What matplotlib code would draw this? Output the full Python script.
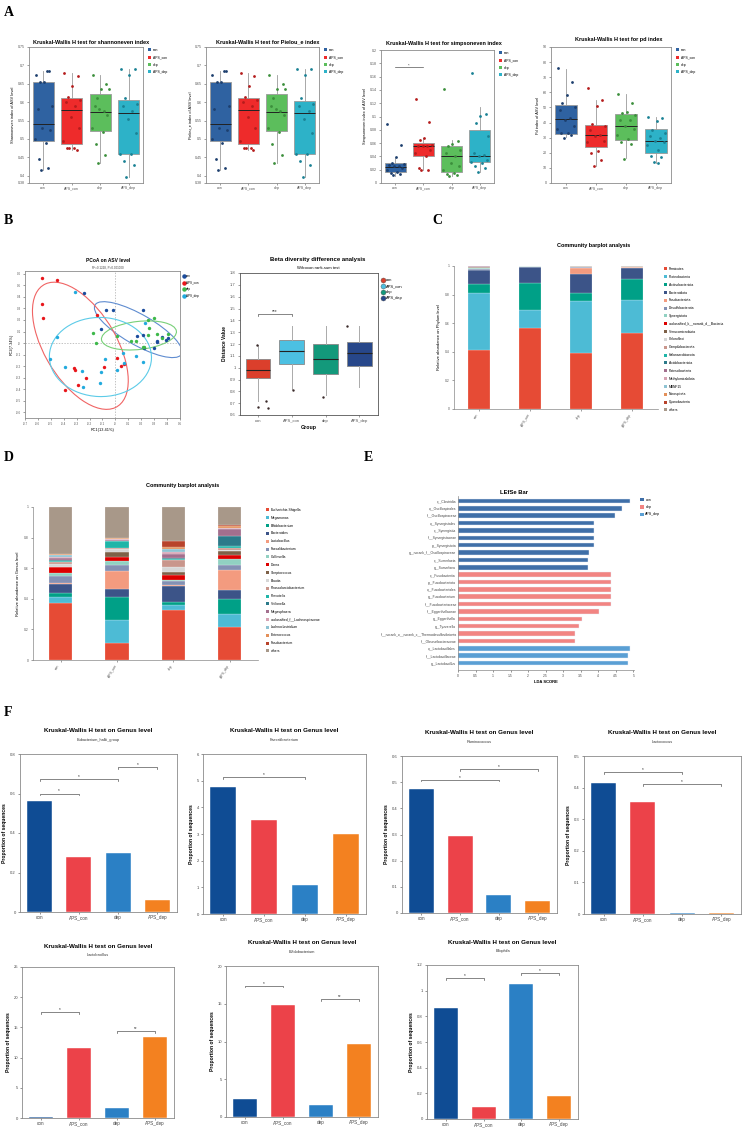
import numpy as np
import matplotlib
matplotlib.use("Agg")
import matplotlib.pyplot as plt
from matplotlib.patches import Ellipse, Patch
from matplotlib.lines import Line2D
from matplotlib.ticker import FuncFormatter

plt.rcParams['font.family'] = ['Liberation Sans', 'DejaVu Sans']
plt.rcParams['axes.linewidth'] = 0.5
plt.rcParams['xtick.major.width'] = 0.4
plt.rcParams['ytick.major.width'] = 0.4
plt.rcParams['xtick.major.size'] = 1.5
plt.rcParams['ytick.major.size'] = 1.5
plt.rcParams['xtick.major.pad'] = 1.5
plt.rcParams['ytick.major.pad'] = 1.5

W, H = 744, 1134
fig = plt.figure(figsize=(W / 100, H / 100), dpi=100)

groups = ["con", "APS_con", "dep", "APS_dep"]

# ---------------- A: alpha diversity (whislo, q1, med, q3, whishi) ----------------
shannon_box = [[0.415, 0.495, 0.54, 0.655, 0.685],
               [0.47, 0.485, 0.578, 0.612, 0.68],
               [0.435, 0.522, 0.573, 0.623, 0.675],
               [0.395, 0.46, 0.57, 0.605, 0.69]]
shannon_pts = [[0.675, 0.685, 0.655, 0.655, 0.59, 0.58, 0.685, 0.53, 0.525, 0.5, 0.49, 0.445, 0.42, 0.415],
               [0.68, 0.67, 0.645, 0.615, 0.605, 0.6, 0.59, 0.56, 0.53, 0.495, 0.475, 0.475, 0.47, 0.475],
               [0.675, 0.65, 0.635, 0.61, 0.635, 0.59, 0.575, 0.58, 0.565, 0.53, 0.52, 0.485, 0.455, 0.435],
               [0.69, 0.69, 0.675, 0.61, 0.595, 0.59, 0.575, 0.555, 0.515, 0.46, 0.46, 0.44, 0.43, 0.395]]
# Pielou_e panel reads the same as shannoneven
pielou_box = [[0.415, 0.495, 0.54, 0.655, 0.685],
              [0.47, 0.485, 0.578, 0.612, 0.68],
              [0.435, 0.522, 0.573, 0.622, 0.675],
              [0.395, 0.46, 0.57, 0.604, 0.69]]
pielou_pts = shannon_pts
simpson_box = [[0.011, 0.016, 0.024, 0.03, 0.038],
               [0.019, 0.041, 0.055, 0.06, 0.067],
               [0.011, 0.016, 0.04, 0.055, 0.064],
               [0.017, 0.031, 0.041, 0.08, 0.115]]
simpson_pts = [[0.089, 0.057, 0.039, 0.03, 0.029, 0.027, 0.025, 0.025, 0.022, 0.02, 0.016, 0.015, 0.013, 0.012],
               [0.126, 0.092, 0.067, 0.065, 0.057, 0.056, 0.055, 0.055, 0.05, 0.045, 0.041, 0.023, 0.02, 0.02],
               [0.141, 0.063, 0.059, 0.055, 0.05, 0.045, 0.04, 0.03, 0.025, 0.02, 0.015, 0.013, 0.012, 0.011],
               [0.165, 0.104, 0.101, 0.09, 0.07, 0.045, 0.042, 0.04, 0.035, 0.032, 0.03, 0.025, 0.022, 0.017]]
pd_box = [[30.3, 32.5, 42.5, 51.3, 75.6],
          [11.5, 23.7, 31.7, 38.7, 55.0],
          [16.6, 28.6, 37.4, 45.8, 58.6],
          [13.3, 20.0, 28.1, 35.9, 43.6]]
pd_pts = [[76, 67, 58, 53, 50, 48, 43, 42, 38, 36, 33, 33, 32, 30],
          [63, 55, 51, 39, 38, 35, 32, 31, 28, 27, 21, 20, 15, 11],
          [59, 53, 47, 46, 45, 42, 42, 38, 36, 32, 29, 27, 26, 16],
          [44, 43, 41, 35, 33, 31, 30, 28, 27, 25, 22, 18, 17, 14, 13]]

# ---------------- B: PCoA ----------------
pc1_con = [-0.24, -0.07, -0.02, -0.11, 0.21, 0.17, 0.21, 0.32, 0.32, 0.36, 0.39, 0.41, 0.30, 0.22]
pc2_con = [0.43, 0.29, 0.29, 0.125, 0.29, 0.065, 0.07, 0.02, 0.01, 0.05, 0.03, 0.04, -0.04, -0.04]
pc1_aps_con = [-0.57, -0.45, -0.57, -0.56, -0.14, 0.01, 0.04, 0.07, -0.09, -0.32, -0.31, -0.23, -0.29, -0.39]
pc2_aps_con = [0.56, 0.55, 0.34, 0.22, 0.24, -0.13, -0.20, -0.18, -0.21, -0.22, -0.23, -0.30, -0.36, -0.41]
pc1_dep = [-0.17, -0.15, 0.01, 0.12, 0.16, 0.25, 0.32, 0.26, 0.25, 0.30, 0.36, 0.41, 0.22, 0.21]
pc2_dep = [0.09, 0.0, 0.06, 0.015, 0.015, 0.07, 0.075, 0.13, 0.20, 0.22, 0.04, 0.075, -0.03, -0.035]
pc1_aps_dep = [-0.31, -0.45, -0.51, -0.39, -0.26, -0.11, -0.08, 0.01, 0.06, 0.07, 0.16, 0.21, 0.23, -0.25, -0.12]
pc2_aps_dep = [0.44, 0.05, -0.14, -0.21, -0.245, -0.25, -0.14, -0.23, -0.09, -0.17, -0.11, -0.16, 0.17, -0.38, -0.35]

beta_box = [[0.72, 0.91, 0.98, 1.075, 1.19],
            [0.82, 1.03, 1.14, 1.23, 1.35],
            [0.77, 0.945, 1.075, 1.2, 1.35],
            [0.84, 1.01, 1.125, 1.215, 1.35]]
beta_fliers = [[1.19, 0.665, 0.72, 0.655], [0.81], [0.75], [1.35]]

# ---------------- C: phylum ----------------
phylum_names = ["Firmicutes", "Proteobacteria", "Actinobacteriota", "Bacteroidota", "Fusobacteriota",
                "Desulfobacterota", "Synergistota", "unclassified_k__norank_d__Bacteria", "Verrucomicrobiota",
                "Chloroflexi", "Campilobacterota", "Halanaerobiaeota", "Acidobacteriota", "Patescibacteria",
                "Methylomirabilota", "MBNF15", "Nitrospirota", "Cyanobacteria", "others"]
phylum_con = [0.41, 0.40, 0.067, 0.093, 0.001, 0.009, 0.007, 0.001, 0.002, 0.003, 0.001, 0.001, 0.001,
              0.001, 0.001, 0.001, 0.0005, 0.0005, 0.001]
phylum_aps_con = [0.567, 0.123, 0.19, 0.113, 0.001, 0.002, 0.001, 0.0005, 0.0005, 0.0005, 0.0005, 0.0003,
                  0.0003, 0.0003, 0.0002, 0.0002, 0.0002, 0.0002, 0.0005]
phylum_dep = [0.395, 0.358, 0.061, 0.132, 0.04, 0.008, 0.002, 0.0005, 0.0005, 0.0005, 0.0005, 0.0003,
              0.0003, 0.0003, 0.0002, 0.0002, 0.0002, 0.0002, 0.0005]
phylum_aps_dep = [0.528, 0.232, 0.147, 0.081, 0.005, 0.002, 0.001, 0.0005, 0.0005, 0.0005, 0.0005, 0.0003,
                  0.0003, 0.0003, 0.0002, 0.0002, 0.0002, 0.0002, 0.0005]
phylum_colors = ["#e64b35", "#4dbbd5", "#00a087", "#3c5488", "#f39b7f", "#8491b4", "#91d1c2", "#dc0000",
                 "#7e6148", "#d6d6d6", "#c9968c", "#1fb5a8", "#2c7a8a", "#a36f8e", "#d6a3b4", "#8ec3d3",
                 "#e3905a", "#b8432b", "#a89889"]

# ---------------- D: genus ----------------
genus_names = ["Escherichia-Shigella", "Megamonas", "Bifidobacterium", "Bacteroides", "Lactobacillus",
               "Faecalibacterium", "Collinsella", "Dorea", "Streptococcus", "Blautia",
               "Phascolarctobacterium", "Prevotella", "Veillonella", "Megasphaera",
               "unclassified_f__Lachnospiraceae", "Lachnoclostridium", "Enterococcus", "Fusobacterium", "others"]
genus_con = [0.37, 0.04, 0.03, 0.06, 0.005, 0.045, 0.02, 0.035, 0.005, 0.015, 0.015, 0.01, 0.005, 0.01,
             0.01, 0.01, 0.005, 0.003, 0.307]
genus_aps_con = [0.11, 0.15, 0.15, 0.057, 0.116, 0.037, 0.03, 0.024, 0.033, 0.021, 0.005, 0.045, 0.003,
                 0.005, 0.004, 0.004, 0.006, 0.0, 0.20]
genus_dep = [0.33, 0.03, 0.02, 0.105, 0.005, 0.025, 0.01, 0.03, 0.021, 0.034, 0.042, 0.008, 0.005, 0.03,
             0.01, 0.023, 0.012, 0.035, 0.225]
genus_aps_dep = [0.213, 0.087, 0.10, 0.057, 0.133, 0.03, 0.037, 0.028, 0.025, 0.01, 0.01, 0.015, 0.065,
                 0.045, 0.005, 0.005, 0.012, 0.003, 0.12]

# ---------------- E: LEfSe ----------------
lefse_names = ["c__Clostridia", "o__Oscillospirales", "f__Oscillospiraceae", "o__Synergistales",
               "c__Synergistia", "f__Synergistaceae", "p__Synergistota", "g__norank_f__Oscillospiraceae",
               "c__Sumerlaeia", "g__Sumerlaea", "c__Fusobacteriia", "p__Fusobacteriota", "o__Fusobacteriales",
               "g__Fusobacterium", "f__Fusobacteriaceae", "f__Eggerthellaceae", "g__Eggerthella",
               "g__Tyzzerella", "f__norank_o__norank_c__Thermodesulfovibrionia", "f__Obscuribacteraceae",
               "o__Lactobacillales", "f__Lactobacillaceae", "g__Lactobacillus"]
lefse_lda = [4.90, 4.67, 4.47, 3.88, 3.88, 3.88, 3.88, 3.73, 3.72, 3.71, 4.36, 4.36, 4.36, 4.36, 4.36,
             4.01, 3.55, 3.45, 3.34, 3.33, 4.91, 4.84, 4.84]
lefse_group = ["con"] * 10 + ["dep"] * 10 + ["APS_dep"] * 3

# ---------------- F: Kruskal-Wallis genus bars ----------------
kw_genus = ["Eubacterium_hallii_group", "Faecalibacterium", "Ruminococcus", "Lactococcus",
            "Lactobacillus", "Bifidobacterium", "Bilophila"]
kw_values = [[0.56, 0.28, 0.30, 0.06],
             [4.75, 3.52, 1.1, 3.0],
             [0.473, 0.296, 0.068, 0.045],
             [0.416, 0.355, 0.004, 0.003],
             [0.1, 11.6, 1.65, 13.35],
             [2.35, 14.85, 1.55, 9.65],
             [0.865, 0.09, 1.055, 0.18]]
kw_sig = [[(0, 1, 0.60, "*"), (0, 2, 0.675, "*"), (2, 3, 0.735, "*")],
          [(0, 2, 5.12, "*")],
          [(0, 2, 0.51, "*"), (1, 3, 0.55, "*")],
          [(0, 2, 0.45, "*"), (1, 3, 0.41, "*")],
          [(0, 1, 17.5, "*"), (2, 3, 14.4, "**")],
          [(0, 1, 17.4, "*"), (2, 3, 15.6, "**")],
          [(0, 1, 1.10, "*"), (2, 3, 1.14, "*")]]
kw_ymax = [0.8, 6, 0.6, 0.5, 25, 20, 1.2]
kw_ystep = [0.2, 1, 0.1, 0.1, 5, 5, 0.2]


def px_axes(l, t, r, b):
    return fig.add_axes([l / W, 1 - b / H, (r - l) / W, (b - t) / H])


def fig_text(x, y, s, **kw):
    fig.text(x / W, 1 - y / H, s, **kw)


gfmt = FuncFormatter(lambda v, p: "%g" % round(v, 4))


def frame(ax, color="#8c8c8c"):
    for sp in ax.spines.values():
        sp.set_color(color)
        sp.set_linewidth(0.6)
    ax.tick_params(colors="#555555", labelsize=2.6)


def baseline_xlabels(ax, size):
    # keep group names on one baseline
    ax.tick_params(axis="x", labelsize=size, pad=1.2 + 0.75 * size)
    for t in ax.get_xticklabels():
        t.set_va("baseline")


def make_stats(rows, fliers=None):
    return [dict(whislo=r[0], q1=r[1], med=r[2], q3=r[3], whishi=r[4],
                 fliers=[] if fliers is None else fliers[i]) for i, r in enumerate(rows)]


def sig_line(ax, x1, x2, y, label, fs=3.2, tick=0.0):
    ax.plot([x1, x1, x2, x2], [y - tick, y, y, y - tick], color="#555555", lw=0.5)
    ax.text((x1 + x2) / 2, y, label, ha="center", va="bottom", fontsize=fs, color="#333333")


def legend_fig(ax, handles, x, y, fs, spacing, hl=1.0):
    ax.legend(handles=handles, loc="upper left", bbox_to_anchor=(x / W, 1 - y / H),
              bbox_transform=fig.transFigure, frameon=False, fontsize=fs, labelspacing=spacing,
              handlelength=hl, handleheight=1.0, handletextpad=0.5, borderpad=0, borderaxespad=0)


# panel letters
for letter, x, y in [("A", 4, 12), ("B", 4, 221), ("C", 432, 221), ("D", 4, 458), ("E", 364, 458), ("F", 4, 712)]:
    fig_text(x, y, letter, fontsize=10, fontweight="bold", family="Liberation Serif", va="center")

# ---------------- A ----------------
a_fill = ["#2f62a1", "#ee2b2b", "#5cbe5c", "#2db2c8"]
a_dot = ["#1d3f6e", "#b51c1c", "#3c8f3c", "#1a8194"]
jitter = [-0.27, 0.21, 0.02, -0.12, 0.3, -0.2, 0.13, -0.03, 0.25, -0.3, 0.08, -0.16, 0.18, -0.08, 0.05]

alpha_specs = [
    (shannon_box, shannon_pts, "Kruskal-Wallis H test for shannoneven index", "Shannoneven index of ASV level",
     (29, 47, 143, 183), 91, 42, (0.38, 0.75), [0.38] + list(np.arange(0.4, 0.76, 0.05)), None),
    (pielou_box, pielou_pts, "Kruskal-Wallis H test for Pielou_e index", "Pielou_e index of ASV level",
     (206, 47, 319, 183), 268, 42, (0.38, 0.75), [0.38] + list(np.arange(0.4, 0.76, 0.05)), None),
    (simpson_box, simpson_pts, "Kruskal-Wallis H test for simpsoneven index", "Simpsoneven index of ASV level",
     (381, 50, 494, 183), 444, 43, (0, 0.2), list(np.arange(0, 0.201, 0.02)), (0, 1, 0.174, "*")),
    (pd_box, pd_pts, "Kruskal-Wallis H test for pd index", "Pd index of ASV level",
     (551, 47, 671, 183), 619, 39, (0, 90), list(range(0, 91, 10)), None),
]

for box, pts, title, ylab, rect, tx, ty, ylim, yticks, sig in alpha_specs:
    ax = px_axes(*rect)
    bp = ax.bxp(make_stats(box), positions=range(4), widths=0.75, patch_artist=True,
                showfliers=False, showcaps=False,
                boxprops=dict(edgecolor="#9a9a9a", linewidth=0.6),
                whiskerprops=dict(color="#9a9a9a", linewidth=0.6),
                medianprops=dict(color="#222222", linewidth=0.7))
    for patch, c in zip(bp["boxes"], a_fill):
        patch.set_facecolor(c)
    for i, vals in enumerate(pts):
        xs = [i + jitter[k % len(jitter)] for k in range(len(vals))]
        ax.scatter(xs, vals, s=4, color=a_dot[i], zorder=3, linewidths=0)
    if sig:
        sig_line(ax, sig[0], sig[1], sig[2], sig[3], fs=3)
    ax.set_xlim(-0.5, 3.5)
    ax.set_ylim(*ylim)
    ax.set_yticks(yticks)
    ax.yaxis.set_major_formatter(gfmt)
    ax.set_xticks(range(4))
    ax.set_xticklabels(groups)
    frame(ax)
    baseline_xlabels(ax, 2.6)
    ax.set_ylabel(ylab, fontsize=2.8, labelpad=2)
    fig_text(tx, ty, title, fontsize=4, fontweight="bold", ha="center", va="center")
    legend_fig(ax, [Patch(facecolor=c, edgecolor="none", label=g) for c, g in zip(a_fill, groups)],
               rect[2] + 5, rect[1] + 1, 2.4, 1.0)

# ---------------- B left: PCoA ----------------
pc_colors = ["#1b4c9c", "#e8161b", "#3db84a", "#22aadd"]
ell_colors = ["#5f8cd0", "#f06464", "#78d078", "#5ccbe8"]
pcoa = [(pc1_con, pc2_con), (pc1_aps_con, pc2_aps_con), (pc1_dep, pc2_dep), (pc1_aps_dep, pc2_aps_dep)]

ax = px_axes(25, 271, 180, 418)
ax.axvline(0, color="#aaaaaa", lw=0.5, ls=(0, (2, 2)))
ax.axhline(0, color="#aaaaaa", lw=0.5, ls=(0, (2, 2)))
for (xs, ys), c, ec in zip(pcoa, pc_colors, ell_colors):
    xs = np.array(xs)
    ys = np.array(ys)
    cov = np.cov(xs, ys)
    vals, vecs = np.linalg.eigh(cov)
    ang = np.degrees(np.arctan2(vecs[1, 1], vecs[0, 1]))
    k = 1.65
    ax.add_patch(Ellipse((xs.mean(), ys.mean()), 2 * k * np.sqrt(vals[1]), 2 * k * np.sqrt(vals[0]),
                         angle=ang, fill=False, edgecolor=ec, lw=0.8, zorder=2))
    ax.scatter(xs, ys, s=6, color=c, zorder=3, linewidths=0)
ax.set_xlim(-0.7, 0.5)
ax.set_ylim(-0.65, 0.625)
ax.set_xticks(np.arange(-0.7, 0.51, 0.1))
ax.set_yticks(np.arange(-0.6, 0.61, 0.1))
ax.xaxis.set_major_formatter(gfmt)
ax.yaxis.set_major_formatter(gfmt)
frame(ax)
ax.tick_params(labelsize=2.2)
ax.set_xlabel("PC1(13.41%)", fontsize=2.8, labelpad=1.5)
ax.set_ylabel("PC2(7.34%)", fontsize=2.8, labelpad=1.5)
fig_text(108, 261, "PCoA on ASV level", fontsize=3.5, fontweight="bold", ha="center", va="center")
fig_text(108, 268, "R²=0.1228, P=0.001000", fontsize=2.2, ha="center", va="center", color="#444444")
legend_fig(ax, [Line2D([], [], marker="o", ls="", color=c, markersize=2.2, label=g)
                for c, g in zip(pc_colors, groups)], 183, 274, 2.2, 0.9, hl=0.6)

# ---------------- B right: beta diversity ----------------
beta_colors = ["#db3f2c", "#4cc0e2", "#13997b", "#27478a"]
beta_dx = [[-0.02, 0.0, 0.23, 0.3], [0.05], [-0.07], [-0.36]]
ax = px_axes(240, 273, 378, 415)
bp = ax.bxp(make_stats(beta_box), positions=range(4), widths=0.73, patch_artist=True,
            showfliers=False, showcaps=False,
            boxprops=dict(edgecolor="#888888", linewidth=0.6),
            whiskerprops=dict(color="#aaaaaa", linewidth=0.7),
            medianprops=dict(color="#222222", linewidth=0.8))
for patch, c in zip(bp["boxes"], beta_colors):
    patch.set_facecolor(c)
for i, fl in enumerate(beta_fliers):
    ax.scatter([i + d for d in beta_dx[i]], fl, s=3, color="#3a2a2a", zorder=3, linewidths=0)
sig_line(ax, 0, 1, 1.45, "***", fs=3.5, tick=0.012)
ax.set_xlim(-0.53, 3.55)
ax.set_ylim(0.6, 1.8)
ax.set_yticks(np.arange(0.6, 1.81, 0.1))
ax.yaxis.set_major_formatter(gfmt)
ax.set_xticks(range(4))
ax.set_xticklabels(groups)
frame(ax, "#555555")
ax.tick_params(labelsize=3)
baseline_xlabels(ax, 3)
ax.set_ylabel("Distance Value", fontsize=3.5, fontweight="bold", labelpad=2)
ax.set_xlabel("Group", fontsize=3.8, fontweight="bold", labelpad=1.5)
fig_text(318, 259, "Beta diversity difference analysis", fontsize=4.3, fontweight="bold", ha="center", va="center")
fig_text(318, 268, "Wilcoxon rank-sum test", fontsize=3, ha="center", va="center")
legend_fig(ax, [Line2D([], [], marker="o", ls="", markerfacecolor=c, markeredgecolor="#555555",
                       markeredgewidth=0.3, markersize=3.6, label=g)
                for c, g in zip(beta_colors, groups)], 381, 278, 2.9, 0.45, hl=0.8)


# ---------------- C / D: community barplots ----------------
def community(rect, stacks, names, colors, ylabel, title_xy, leg_xy, width):
    ax = px_axes(*rect)
    bottom = np.zeros(4)
    for k in range(len(names)):
        vals = np.array([s[k] for s in stacks])
        ax.bar(range(4), vals, width, bottom=bottom, color=colors[k], edgecolor="white", linewidth=0.15)
        bottom += vals
    ax.set_xlim(-0.49, 3.5)
    ax.set_ylim(0, 1)
    ax.set_yticks(np.arange(0, 1.01, 0.2))
    ax.yaxis.set_major_formatter(gfmt)
    ax.set_xticks(range(4))
    ax.set_xticklabels(groups, rotation=60, ha="right", va="top")
    for s in ["top", "right"]:
        ax.spines[s].set_visible(False)
    for s in ["left", "bottom"]:
        ax.spines[s].set_color("#888888")
    ax.tick_params(colors="#555555", labelsize=2.4)
    ax.set_ylabel(ylabel, fontsize=3, labelpad=3)
    fig_text(title_xy[0], title_xy[1], "Community barplot analysis", fontsize=4, fontweight="bold",
             ha="center", va="center")
    legend_fig(ax, [Patch(facecolor=c, edgecolor="none", label=n) for c, n in zip(colors, names)],
               leg_xy[0], leg_xy[1], 2.4, 1.15)


community((454, 266, 658, 409), [phylum_con, phylum_aps_con, phylum_dep, phylum_aps_dep], phylum_names,
          phylum_colors, "Relative abundance on Phylum level", (594, 246), (664, 267), 0.43)
community((33, 507, 258, 660), [genus_con, genus_aps_con, genus_dep, genus_aps_dep], genus_names,
          phylum_colors, "Relative abundance on Genus level", (183, 485), (266, 508), 0.41)

# ---------------- E: LEfSe ----------------
lefse_colors = {"con": "#3f6fa8", "dep": "#f28482", "APS_dep": "#5a9fd4"}
ax = px_axes(458, 496, 634, 670)
ypos = np.arange(len(lefse_names))
ax.barh(ypos, lefse_lda, 0.62, color=[lefse_colors[g] for g in lefse_group], edgecolor="#e8eef8", linewidth=0.3)
ax.set_ylim(22.95, -0.68)
ax.set_xlim(0, 5.02)
ax.set_yticks(ypos)
ax.set_yticklabels(lefse_names)
ax.set_xticks(np.arange(0, 5.01, 0.5))
ax.xaxis.set_major_formatter(gfmt)
for s in ["top", "right"]:
    ax.spines[s].set_visible(False)
for s in ["left", "bottom"]:
    ax.spines[s].set_color("#888888")
ax.tick_params(colors="#444444", labelsize=2.4)
ax.tick_params(axis="y", length=0)
ax.set_xlabel("LDA SCORE", fontsize=3, fontweight="bold", labelpad=1.5)
fig_text(514, 492, "LEfSe Bar", fontsize=4.2, fontweight="bold", ha="center", va="center")
legend_fig(ax, [Patch(facecolor=lefse_colors[g], label=g) for g in ["con", "dep", "APS_dep"]],
           640, 498, 2.6, 0.9)

# ---------------- F ----------------
kw_colors = ["#0f4c94", "#ec4249", "#2b80c5", "#f38120"]
kw_rects = [(20, 754, 177, 912), (203, 754, 366, 914), (402, 756, 557, 913), (584, 756, 741, 914),
            (22, 967, 174, 1118), (226, 966, 378, 1117), (427, 965, 578, 1119)]
kw_title_y = [731, 731, 733, 733, 946, 943, 942]

for i in range(7):
    rect = kw_rects[i]
    ax = px_axes(*rect)
    ax.bar(range(4), kw_values[i], 0.64, color=kw_colors, edgecolor="white", linewidth=0.3)
    for a, b, y, lab in kw_sig[i]:
        sig_line(ax, a, b, y, lab, fs=3.3, tick=kw_ymax[i] * 0.012)
    ax.set_xlim(-0.5, 3.5)
    ax.set_ylim(0, kw_ymax[i])
    ax.set_yticks(np.arange(0, kw_ymax[i] + 1e-9, kw_ystep[i]))
    ax.yaxis.set_major_formatter(gfmt)
    ax.set_xticks(range(4))
    ax.set_xticklabels(groups)
    frame(ax, "#8a8a8a")
    ax.tick_params(labelsize=3, colors="#444444")
    baseline_xlabels(ax, 3.3)
    ax.set_ylabel("Proportion of sequences", fontsize=3.6, fontweight="bold", labelpad=2)
    cx = (rect[0] + rect[2]) / 2
    fig_text(cx, kw_title_y[i], "Kruskal-Wallis H test on Genus level", fontsize=4.5, fontweight="bold",
             ha="center", va="center")
    fig_text(cx, kw_title_y[i] + 9, kw_genus[i], fontsize=2.8, ha="center", va="center", color="#333333")

fig.savefig("out.png", dpi=100)
